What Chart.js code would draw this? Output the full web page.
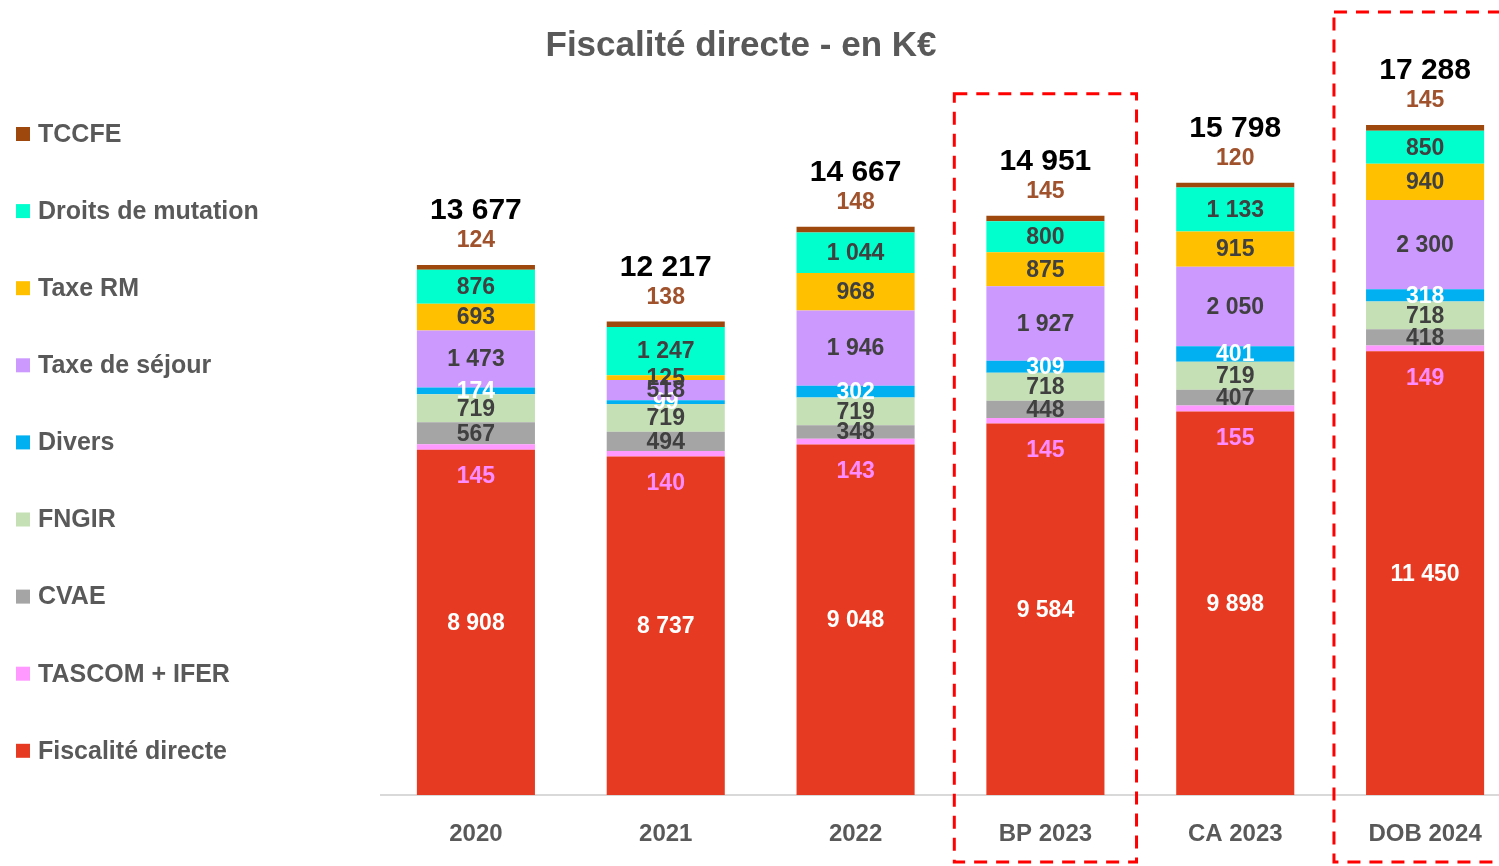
<!DOCTYPE html>
<html>
<head>
<meta charset="utf-8">
<script src="https://cdn.jsdelivr.net/npm/chart.js@4.4.1/dist/chart.umd.min.js"></script>
<style>
  html, body { margin: 0; padding: 0; background: #fff; overflow: hidden; }
  #wrap { width: 1499px; height: 866px; overflow: hidden; position: relative; }
</style>
</head>
<body>
<div id="wrap"><canvas id="chart" width="1520" height="866"></canvas></div>
<script>
// categories
const labels = ['2020', '2021', '2022', 'BP 2023', 'CA 2023', 'DOB 2024'];

// series (K€)
const fiscalite = [8908, 8737, 9048, 9584, 9898, 11450];
const tascom = [145, 140, 143, 145, 155, 149];
const cvae = [567, 494, 348, 448, 407, 418];
const fngir = [719, 719, 719, 718, 719, 718];
const divers = [174, 99, 302, 309, 401, 318];
const sejour = [1473, 518, 1946, 1927, 2050, 2300];
const taxeRM = [693, 125, 968, 875, 915, 940];
const mutation = [876, 1247, 1044, 800, 1133, 850];
const tccfe = [124, 138, 148, 145, 120, 145];

// totals as printed above the bars
const totals = [13677, 12217, 14667, 14951, 15798, 17288];

// categories framed by a dashed red box
const highlighted = ['BP 2023', 'DOB 2024'];

const FONT = '"Liberation Sans", Arial, sans-serif';
const GREY = '#595959';

function fmt(v) {
  return String(v).replace(/\B(?=(\d{3})+(?!\d))/g, ' ');
}

const datasets = [
  { label: 'Fiscalité directe', data: fiscalite, backgroundColor: '#E63B22', labelColor: '#FFFFFF', labelPos: 'center' },
  { label: 'TASCOM + IFER', data: tascom, backgroundColor: '#FF99FF', labelColor: '#FF8CFF', labelPos: 'below' },
  { label: 'CVAE', data: cvae, backgroundColor: '#A5A5A5', labelColor: '#404040', labelPos: 'center' },
  { label: 'FNGIR', data: fngir, backgroundColor: '#C5E0B4', labelColor: '#404040', labelPos: 'center' },
  { label: 'Divers', data: divers, backgroundColor: '#00B0F0', labelColor: '#FFFFFF', labelPos: 'center' },
  { label: 'Taxe de séjour', data: sejour, backgroundColor: '#CC99FF', labelColor: '#404040', labelPos: 'center' },
  { label: 'Taxe RM', data: taxeRM, backgroundColor: '#FFC000', labelColor: '#404040', labelPos: 'center' },
  { label: 'Droits de mutation', data: mutation, backgroundColor: '#00FFCC', labelColor: '#404040', labelPos: 'center' },
  { label: 'TCCFE', data: tccfe, backgroundColor: '#9E480E', labelColor: '#A0522D', labelPos: 'above' }
];

// value labels, totals, dashed boxes
const labelPlugin = {
  id: 'labelPlugin',
  afterDatasetsDraw(chart) {
    const ctx = chart.ctx;
    ctx.save();
    ctx.textAlign = 'center';
    ctx.textBaseline = 'middle';
    chart.data.datasets.forEach((ds, di) => {
      const meta = chart.getDatasetMeta(di);
      meta.data.forEach((bar, i) => {
        const v = ds.data[i];
        let y = (bar.y + bar.base) / 2;
        if (ds.labelPos === 'below') y = bar.base + 26;
        if (ds.labelPos === 'above') y = bar.y - 25;
        ctx.font = 'bold 23px ' + FONT;
        ctx.fillStyle = ds.labelColor;
        ctx.fillText(fmt(v), bar.x, y + 1);
      });
    });
    // totals
    const top = chart.getDatasetMeta(chart.data.datasets.length - 1);
    top.data.forEach((bar, i) => {
      ctx.font = 'bold 30px ' + FONT;
      ctx.fillStyle = '#000000';
      ctx.fillText(fmt(totals[i]), bar.x, bar.y - 54);
    });
    // dashed boxes
    const xs = chart.scales.x;
    const half = xs.width / labels.length * 0.48;
    ctx.strokeStyle = '#FF0000';
    ctx.lineWidth = 3;
    ctx.setLineDash([13, 9]);
    highlighted.forEach(name => {
      const i = labels.indexOf(name);
      const bar = top.data[i];
      const yTop = Math.max(12, bar.y - 122);
      ctx.strokeRect(bar.x - half, yTop, half * 2, 862 - yTop);
    });
    ctx.restore();
  }
};

// legend drawn on the left, top item first
const legendPlugin = {
  id: 'sideLegend',
  afterDraw(chart) {
    const ctx = chart.ctx;
    ctx.save();
    ctx.font = 'bold 25px ' + FONT;
    ctx.textBaseline = 'middle';
    ctx.textAlign = 'left';
    const items = chart.data.datasets.slice().reverse();
    items.forEach((ds, k) => {
      const y = 134 + k * 77.1;
      ctx.fillStyle = ds.backgroundColor;
      ctx.fillRect(16, y - 7, 14, 14);
      ctx.fillStyle = GREY;
      ctx.fillText(ds.label, 38, y + 1);
    });
    // title
    ctx.font = 'bold 35px ' + FONT;
    ctx.textAlign = 'center';
    ctx.fillText('Fiscalité directe - en K€', 741, 46);
    ctx.restore();
  }
};

new Chart(document.getElementById('chart'), {
  type: 'bar',
  data: { labels: labels, datasets: datasets },
  options: {
    responsive: false,
    animation: false,
    devicePixelRatio: 1,
    layout: { padding: { left: 381, top: 20, right: 0, bottom: 0 } },
    datasets: { bar: { barPercentage: 1, categoryPercentage: 0.622 } },
    plugins: { legend: { display: false }, title: { display: false }, tooltip: { enabled: false } },
    scales: {
      x: {
        stacked: true,
        grid: { display: false, drawTicks: false },
        border: { display: true, color: '#D9D9D9', width: 2 },
        ticks: { color: GREY, font: { family: FONT, size: 24, weight: 'bold' }, padding: 25 },
        afterFit: (scale) => { scale.height = 71; }
      },
      y: {
        stacked: true,
        display: false,
        min: 0,
        max: 20000
      }
    }
  },
  plugins: [labelPlugin, legendPlugin]
});
</script>
</body>
</html>
